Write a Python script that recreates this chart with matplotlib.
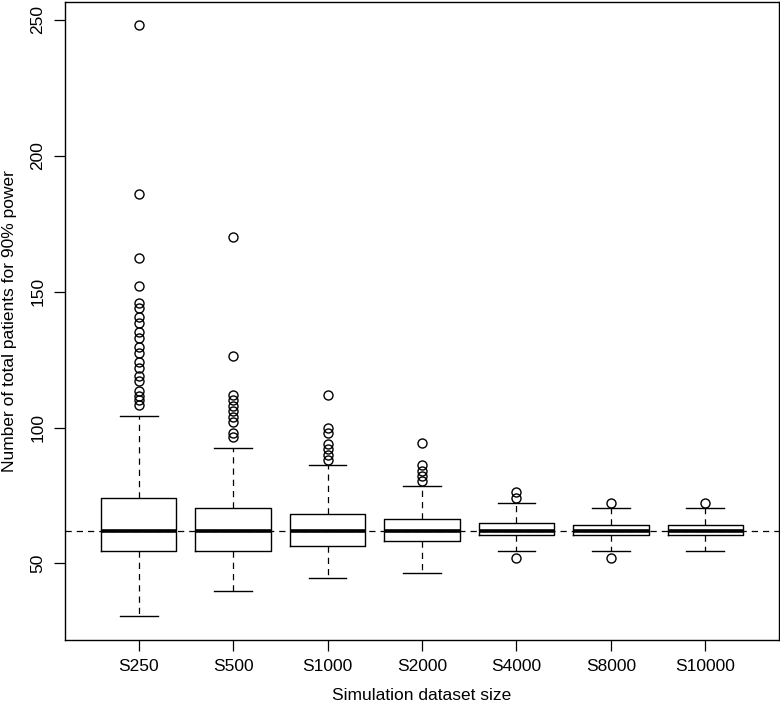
import matplotlib
matplotlib.use("Agg")
import matplotlib.pyplot as plt

plt.rcParams['font.family'] = ['Liberation Sans', 'DejaVu Sans']

categories = ["S250", "S500", "S1000", "S2000", "S4000", "S8000", "S10000"]
whislo = [30.5, 40, 44.5, 46.3, 54.4, 54.4, 54.4]
q1 = [54.5, 54.5, 56.4, 58.2, 60.3, 60.3, 60.3]
med = [62, 62, 62, 62, 62, 62, 62]
q3 = [74, 70.2, 68.3, 66.4, 65, 64, 64]
whishi = [104.3, 92.3, 86.2, 78.5, 72.2, 70.4, 70.4]
outliers = [
    [248.2, 185.8, 162.3, 152.2, 146, 144, 140.5, 138.5, 135, 133, 129.5, 127.5,
     124, 122, 119, 117, 113.5, 111.5, 110, 108.3],
    [170, 126.4, 112, 110, 108, 106, 104, 102, 98, 96.6],
    [112, 100, 98, 94, 92, 90, 88],
    [94.3, 86.2, 84, 82, 80.4],
    [76.1, 73.9, 52.1],
    [72.1, 52.1],
    [72.1],
]
ref_value = 62
y_ticks = [50, 100, 150, 200, 250]

fig = plt.figure(figsize=(7.8, 7.05), dpi=100)
ax = fig.add_axes([65/780, 1 - 640/705, 714/780, 638/705])

stats = []
for i, c in enumerate(categories):
    stats.append(dict(label=c, whislo=whislo[i], q1=q1[i], med=med[i],
                      q3=q3[i], whishi=whishi[i], fliers=outliers[i]))

ax.bxp(stats, positions=range(1, len(categories) + 1), widths=0.8,
       boxprops=dict(color='black', linewidth=1.0),
       medianprops=dict(color='black', linewidth=2.6, solid_capstyle='butt'),
       whiskerprops=dict(color='black', linewidth=0.9, linestyle=(0, (5, 4))),
       capprops=dict(color='black', linewidth=1.0),
       capwidths=0.4,
       flierprops=dict(marker='o', markerfacecolor='none', markeredgecolor='black',
                       markersize=6.5, markeredgewidth=1.0, linestyle='none'))

ax.axhline(ref_value, color='black', linewidth=0.9, linestyle=(0, (5, 4)), zorder=0.5)

ax.set_xlim(0.22, 7.78)
ax.set_ylim(21.8, 256.6)
ax.set_yticks(y_ticks)
ax.set_yticklabels([str(t) for t in y_ticks], rotation=90, va='center')
ax.set_xticks(range(1, len(categories) + 1))
ax.set_xticklabels(categories)
ax.tick_params(axis='both', length=8, width=0.9, labelsize=12.5, pad=6, direction='out')
for s in ax.spines.values():
    s.set_linewidth(1.0)

ax.set_xlabel("Simulation dataset size", fontsize=12.5, labelpad=10)
ax.set_ylabel("Number of total patients for 90% power", fontsize=12.5, labelpad=10)

fig.savefig("out.png", dpi=100)
